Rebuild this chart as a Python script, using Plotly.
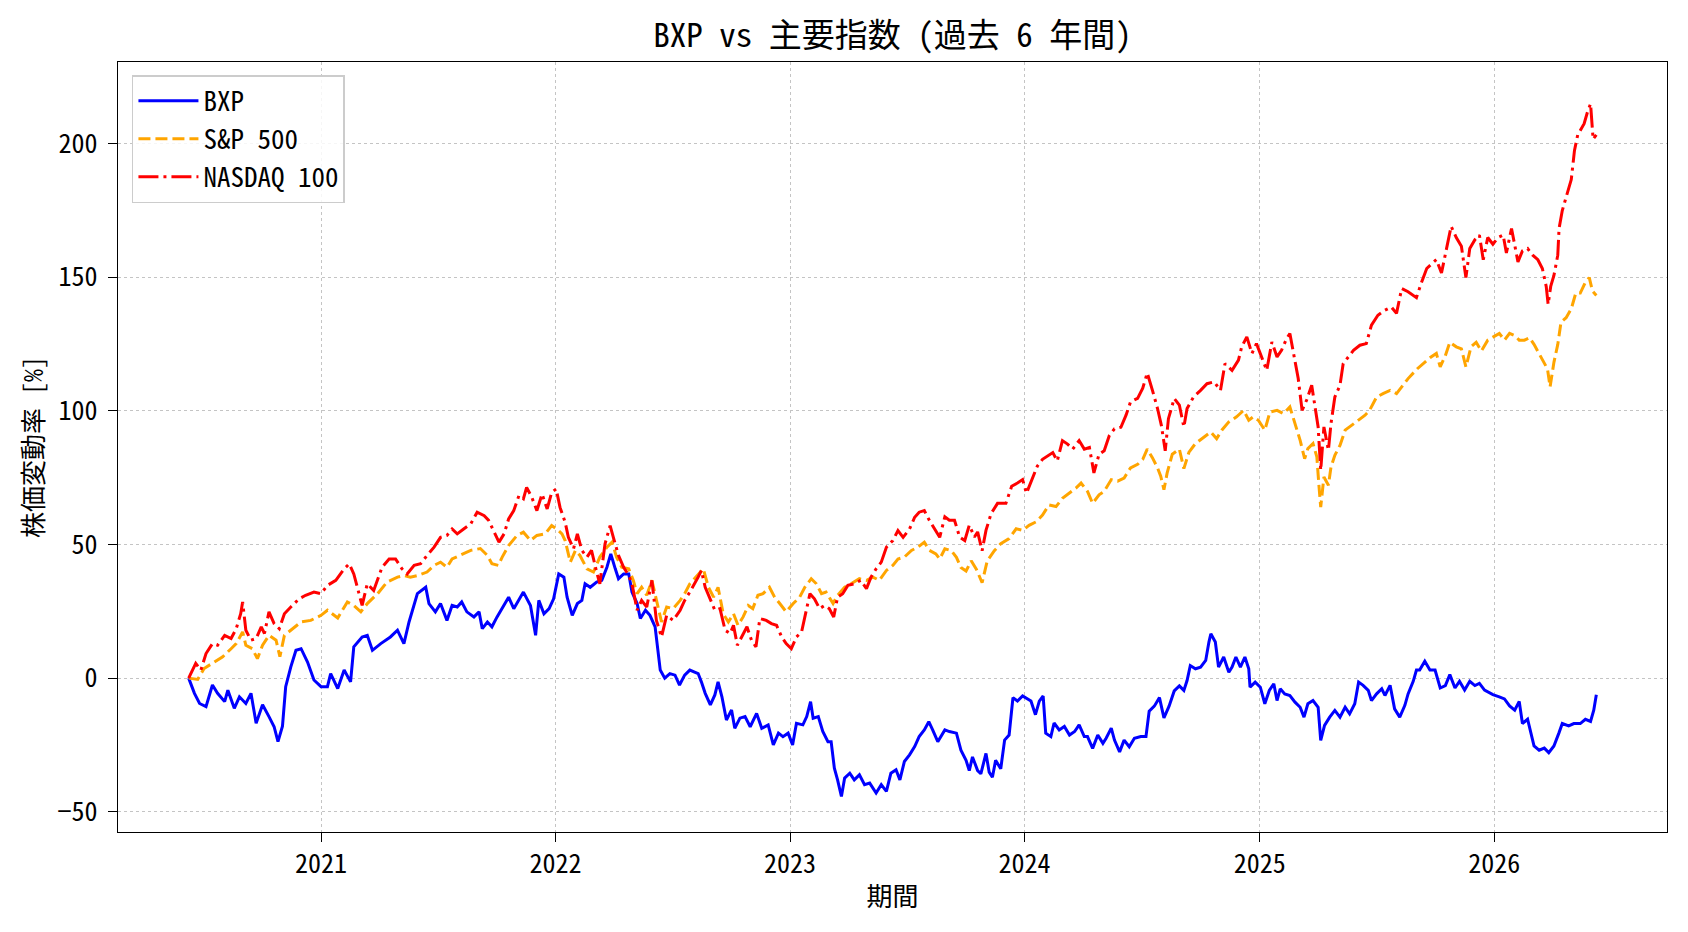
import plotly.graph_objects as go

# ---- data (percent change since start) ----
bxp = [
    ("2020-06-09", 0), ("2020-06-18", -5.7), ("2020-06-26", -9.5), ("2020-07-06", -10.7), ("2020-07-16", -2.6),
    ("2020-07-24", -5.7), ("2020-08-04", -8.8), ("2020-08-09", -4.5), ("2020-08-19", -11.3), ("2020-08-27", -7),
    ("2020-09-06", -9.5), ("2020-09-14", -5.7), ("2020-09-22", -16.9), ("2020-10-02", -10), ("2020-10-12", -14.4),
    ("2020-10-20", -18.2), ("2020-10-26", -23.8), ("2020-11-02", -18), ("2020-11-07", -3.2), ("2020-11-15", 4.2),
    ("2020-11-23", 10.4), ("2020-12-01", 11), ("2020-12-11", 6), ("2020-12-21", -0.7),
    ("2021-01-01", -3.2), ("2021-01-11", -3.2), ("2021-01-16", 1.7), ("2021-01-27", -3.9), ("2021-02-06", 3),
    ("2021-02-16", -1.4), ("2021-02-21", 11.7), ("2021-03-06", 15.4), ("2021-03-14", 16), ("2021-03-22", 10.4),
    ("2021-04-04", 12.9), ("2021-04-19", 15.4), ("2021-04-30", 17.9), ("2021-05-10", 12.9), ("2021-05-18", 21),
    ("2021-05-31", 31.6), ("2021-06-13", 34), ("2021-06-18", 27.9), ("2021-06-28", 24.8), ("2021-07-06", 27.9),
    ("2021-07-16", 21.6), ("2021-07-24", 27.2), ("2021-08-01", 26.6), ("2021-08-08", 28.5), ("2021-08-16", 24.8),
    ("2021-08-27", 22.9), ("2021-09-04", 24.8), ("2021-09-09", 18.5), ("2021-09-17", 21), ("2021-09-24", 19.2),
    ("2021-10-02", 22.9), ("2021-10-13", 27.2), ("2021-10-20", 30.3), ("2021-10-28", 26), ("2021-11-05", 29.1),
    ("2021-11-12", 32.2), ("2021-11-23", 27.2), ("2021-12-01", 16), ("2021-12-06", 29.1), ("2021-12-14", 24.1),
    ("2021-12-22", 26), ("2021-12-29", 29.7),
    ("2022-01-06", 39), ("2022-01-14", 37.8), ("2022-01-19", 30.3), ("2022-01-27", 23.5), ("2022-02-04", 27.9),
    ("2022-02-11", 29.1), ("2022-02-16", 35.3), ("2022-02-24", 34), ("2022-03-06", 35.9), ("2022-03-14", 36.6),
    ("2022-03-22", 41.5), ("2022-03-28", 46.5), ("2022-04-04", 40.9), ("2022-04-09", 37.2), ("2022-04-17", 39),
    ("2022-04-25", 39), ("2022-04-30", 32.2), ("2022-05-08", 27.9), ("2022-05-13", 22.3), ("2022-05-21", 25.4),
    ("2022-05-28", 23.5), ("2022-06-05", 19.2), ("2022-06-13", 3), ("2022-06-20", 0), ("2022-06-28", 1.7),
    ("2022-07-06", 1.1), ("2022-07-13", -2.6), ("2022-07-21", 1.1), ("2022-07-29", 3), ("2022-08-11", 1.7),
    ("2022-08-16", -1.4), ("2022-08-22", -5.7), ("2022-08-30", -10), ("2022-09-06", -6.3), ("2022-09-11", -1.4),
    ("2022-09-17", -7), ("2022-09-24", -15.7), ("2022-10-02", -11.9), ("2022-10-07", -18.8), ("2022-10-15", -15),
    ("2022-10-23", -14.4), ("2022-10-31", -18.2), ("2022-11-10", -13.2), ("2022-11-18", -18.8), ("2022-11-28", -17.5),
    ("2022-12-06", -25), ("2022-12-14", -20.6), ("2022-12-21", -21.9), ("2022-12-29", -20.6),
    ("2023-01-05", -25), ("2023-01-11", -16.9), ("2023-01-21", -17.5), ("2023-01-27", -14.4), ("2023-02-02", -8.8),
    ("2023-02-06", -15), ("2023-02-14", -14.4), ("2023-02-21", -20), ("2023-03-01", -23.8), ("2023-03-06", -23.8),
    ("2023-03-11", -33.7), ("2023-03-16", -38.1), ("2023-03-22", -44.3), ("2023-03-27", -37.4), ("2023-04-04", -35.6),
    ("2023-04-11", -38.1), ("2023-04-19", -36.2), ("2023-04-27", -39.9), ("2023-05-05", -39.3), ("2023-05-15", -43),
    ("2023-05-23", -39.9), ("2023-05-31", -42.4), ("2023-06-07", -35.6), ("2023-06-15", -34.3), ("2023-06-21", -38.1),
    ("2023-06-28", -31.2), ("2023-07-06", -28.7), ("2023-07-14", -25.6), ("2023-07-21", -21.9), ("2023-07-29", -19.4),
    ("2023-08-05", -16.3), ("2023-08-11", -19.4), ("2023-08-19", -23.8), ("2023-08-30", -19.4), ("2023-09-06", -20),
    ("2023-09-17", -20.6), ("2023-09-24", -27), ("2023-10-02", -30.8), ("2023-10-07", -34.6), ("2023-10-12", -29.5),
    ("2023-10-20", -34.6), ("2023-10-25", -35.8), ("2023-11-02", -28.2), ("2023-11-07", -35.2), ("2023-11-12", -37.1),
    ("2023-11-17", -30.8), ("2023-11-25", -33.9), ("2023-12-01", -23.2), ("2023-12-08", -21.3), ("2023-12-14", -7.3),
    ("2023-12-21", -8.6), ("2023-12-29", -6.7),
    ("2024-01-06", -8), ("2024-01-11", -8.6), ("2024-01-18", -13.7), ("2024-01-24", -8.6), ("2024-01-30", -6.7),
    ("2024-02-03", -20.6), ("2024-02-11", -21.9), ("2024-02-16", -16.8), ("2024-02-24", -19.4), ("2024-03-03", -18.1),
    ("2024-03-11", -21.3), ("2024-03-19", -20), ("2024-03-26", -17.5), ("2024-04-03", -21.9), ("2024-04-08", -21.9),
    ("2024-04-16", -26.3), ("2024-04-24", -21.3), ("2024-05-02", -24.4), ("2024-05-07", -22.5), ("2024-05-15", -18.7),
    ("2024-05-20", -23.2), ("2024-05-28", -27.6), ("2024-06-04", -23.2), ("2024-06-12", -25.7), ("2024-06-20", -22.5),
    ("2024-06-30", -21.9), ("2024-07-08", -21.9), ("2024-07-13", -12.4), ("2024-07-21", -10.5), ("2024-07-29", -7.3),
    ("2024-08-05", -14.9), ("2024-08-13", -10.5), ("2024-08-21", -4.8), ("2024-08-29", -2.9), ("2024-09-05", -4.6),
    ("2024-09-10", -0.9), ("2024-09-15", 4.7), ("2024-09-23", 3.5), ("2024-10-01", 4.1), ("2024-10-09", 6.6),
    ("2024-10-14", 13.5), ("2024-10-17", 16.6), ("2024-10-24", 13.5), ("2024-10-29", 4.1), ("2024-11-06", 7.9),
    ("2024-11-14", 2.2), ("2024-11-19", 4.1), ("2024-11-25", 7.9), ("2024-12-02", 4.1), ("2024-12-09", 7.9),
    ("2024-12-15", 3.5), ("2024-12-17", -3.4), ("2024-12-25", -1.5),
    ("2025-01-02", -3.4), ("2025-01-09", -9.6), ("2025-01-16", -4.6), ("2025-01-23", -2.1), ("2025-01-28", -8.4),
    ("2025-02-02", -4), ("2025-02-09", -5.9), ("2025-02-17", -6.5), ("2025-02-25", -9), ("2025-03-05", -10.9),
    ("2025-03-11", -14.6), ("2025-03-17", -9.6), ("2025-03-25", -8.4), ("2025-04-02", -10.9), ("2025-04-06", -23.3),
    ("2025-04-12", -17.7), ("2025-04-20", -14.6), ("2025-04-28", -12.1), ("2025-05-06", -14.6), ("2025-05-14", -10.9),
    ("2025-05-21", -13.4), ("2025-05-29", -9.6), ("2025-06-04", -1.5), ("2025-06-11", -2.7), ("2025-06-19", -4.6),
    ("2025-06-24", -8.4), ("2025-07-02", -5.9), ("2025-07-10", -4), ("2025-07-15", -6.5), ("2025-07-23", -2.7),
    ("2025-07-30", -11.5), ("2025-08-07", -14.6), ("2025-08-15", -10.2), ("2025-08-20", -5.9), ("2025-08-28", -1.2),
    ("2025-09-02", 3), ("2025-09-07", 3), ("2025-09-15", 6.3), ("2025-09-23", 3), ("2025-10-01", 3),
    ("2025-10-09", -3.7), ("2025-10-17", -2.8), ("2025-10-24", 1.3), ("2025-11-01", -3.7), ("2025-11-08", -1.2),
    ("2025-11-16", -4.5), ("2025-11-24", -1.2), ("2025-12-02", -2.8), ("2025-12-09", -2), ("2025-12-17", -4.5),
    ("2025-12-30", -6.2),
    ("2026-01-09", -7), ("2026-01-17", -7.8), ("2026-01-25", -10.4), ("2026-02-02", -12), ("2026-02-09", -8.7),
    ("2026-02-14", -17), ("2026-02-22", -15.4), ("2026-02-27", -20.4), ("2026-03-04", -25.4), ("2026-03-12", -27),
    ("2026-03-20", -26.2), ("2026-03-27", -27.9), ("2026-04-04", -25.4), ("2026-04-12", -20.4), ("2026-04-17", -17),
    ("2026-04-27", -17.9), ("2026-05-05", -17), ("2026-05-15", -17), ("2026-05-23", -15.4), ("2026-05-31", -16.2),
    ("2026-06-05", -12), ("2026-06-09", -6.2),
]

sp500 = [
    ("2020-06-09", 0), ("2020-06-23", -0.5), ("2020-07-03", 3.6), ("2020-07-19", 6.1), ("2020-08-01", 8),
    ("2020-08-14", 11), ("2020-08-22", 12.9), ("2020-09-01", 17.3), ("2020-09-06", 12.3), ("2020-09-16", 11),
    ("2020-09-24", 7.3), ("2020-10-02", 12.3), ("2020-10-12", 16), ("2020-10-23", 14.2), ("2020-10-29", 8),
    ("2020-11-05", 16), ("2020-11-15", 17.9), ("2020-12-01", 21), ("2020-12-16", 21.6),
    ("2021-01-01", 23.5), ("2021-01-11", 25.4), ("2021-01-27", 22.5), ("2021-02-11", 28.5), ("2021-02-21", 27.2),
    ("2021-03-04", 24.8), ("2021-03-14", 27.9), ("2021-03-30", 31.6), ("2021-04-14", 36), ("2021-04-30", 37.8),
    ("2021-05-10", 38.4), ("2021-05-20", 37.8), ("2021-05-31", 38.4), ("2021-06-15", 39.7), ("2021-06-26", 42.2),
    ("2021-07-06", 43.4), ("2021-07-16", 41.5), ("2021-07-24", 44.6), ("2021-08-06", 45.9), ("2021-08-22", 47.8),
    ("2021-09-06", 48.5), ("2021-09-17", 45.9), ("2021-09-24", 42.8), ("2021-10-04", 42.2), ("2021-10-10", 45.3),
    ("2021-10-20", 49.6), ("2021-11-02", 53.4), ("2021-11-12", 54.6), ("2021-11-23", 51.5), ("2021-12-03", 53.4),
    ("2021-12-16", 54), ("2021-12-26", 57.1),
    ("2022-01-03", 55.8), ("2022-01-11", 54), ("2022-01-16", 51.5), ("2022-01-24", 43.4), ("2022-02-01", 47.8),
    ("2022-02-08", 45.9), ("2022-02-19", 40.9), ("2022-03-01", 39.7), ("2022-03-11", 45.3), ("2022-03-22", 49),
    ("2022-03-30", 50.9), ("2022-04-06", 45.3), ("2022-04-14", 41.5), ("2022-04-25", 40.9), ("2022-05-02", 36.6),
    ("2022-05-08", 31.6), ("2022-05-15", 34), ("2022-05-23", 31), ("2022-05-31", 36.6), ("2022-06-07", 29.7),
    ("2022-06-15", 21), ("2022-06-23", 26.6), ("2022-07-03", 26), ("2022-07-14", 29.1), ("2022-07-21", 31.6),
    ("2022-07-29", 35.3), ("2022-08-14", 39.7), ("2022-08-19", 40.9), ("2022-08-27", 34), ("2022-09-04", 30.3),
    ("2022-09-11", 34), ("2022-09-19", 24.1), ("2022-09-27", 21), ("2022-10-05", 24.1), ("2022-10-12", 19.8),
    ("2022-10-20", 22.9), ("2022-10-28", 27.2), ("2022-11-04", 26), ("2022-11-12", 31), ("2022-11-20", 31.6),
    ("2022-11-30", 34), ("2022-12-08", 30.3), ("2022-12-16", 27.9), ("2022-12-26", 24.8),
    ("2023-01-06", 27.9), ("2023-01-16", 30.3), ("2023-01-24", 34), ("2023-02-03", 37.2), ("2023-02-11", 35.3),
    ("2023-02-19", 31.6), ("2023-02-26", 32.2), ("2023-03-09", 27.9), ("2023-03-16", 31), ("2023-03-27", 34),
    ("2023-04-06", 35.3), ("2023-04-19", 37.2), ("2023-04-30", 36.6), ("2023-05-10", 37.8), ("2023-05-20", 36.6),
    ("2023-05-31", 40.3), ("2023-06-10", 42.2), ("2023-06-18", 44.6), ("2023-06-28", 45.3), ("2023-07-09", 47.8),
    ("2023-07-19", 49), ("2023-07-29", 50.9), ("2023-08-06", 47.8), ("2023-08-16", 46.5), ("2023-08-22", 44.6),
    ("2023-08-30", 48.4), ("2023-09-09", 47.7), ("2023-09-17", 45.2), ("2023-09-24", 41.4), ("2023-10-02", 40.1),
    ("2023-10-10", 43.9), ("2023-10-18", 40.8), ("2023-10-27", 35.7), ("2023-11-04", 43.9), ("2023-11-15", 47.7),
    ("2023-11-25", 50.3), ("2023-12-08", 52.2), ("2023-12-19", 55.9), ("2023-12-29", 55.3),
    ("2024-01-08", 57.2), ("2024-01-19", 58.5), ("2024-01-29", 61), ("2024-02-08", 64.8), ("2024-02-19", 64.2),
    ("2024-02-29", 67.3), ("2024-03-11", 69.2), ("2024-03-21", 71.1), ("2024-03-29", 73), ("2024-04-08", 69.9),
    ("2024-04-16", 65.4), ("2024-04-26", 68.6), ("2024-05-04", 69.9), ("2024-05-15", 74.3), ("2024-05-25", 73.7),
    ("2024-06-04", 74.9), ("2024-06-14", 78.7), ("2024-06-25", 80), ("2024-07-03", 81.9), ("2024-07-10", 85.7),
    ("2024-07-18", 82.5), ("2024-07-26", 78.7), ("2024-07-31", 75.6), ("2024-08-05", 70.5), ("2024-08-10", 76.8),
    ("2024-08-18", 83.8), ("2024-08-29", 85.7), ("2024-09-05", 78.4), ("2024-09-13", 84.6), ("2024-09-23", 87.8),
    ("2024-10-03", 89.6), ("2024-10-17", 92.1), ("2024-10-26", 89.6), ("2024-11-03", 92.8), ("2024-11-14", 95.9),
    ("2024-11-26", 97.8), ("2024-12-07", 100.2), ("2024-12-15", 96.5), ("2024-12-22", 97.8), ("2024-12-30", 96.5),
    ("2025-01-09", 92.8), ("2025-01-17", 99.6), ("2025-01-28", 100.2), ("2025-02-07", 99), ("2025-02-17", 101.5),
    ("2025-02-25", 95.3), ("2025-03-05", 89), ("2025-03-12", 82.1), ("2025-03-17", 85.9), ("2025-03-25", 87.8),
    ("2025-03-31", 82.8), ("2025-04-03", 72.8), ("2025-04-06", 64), ("2025-04-11", 75.3), ("2025-04-18", 72.2),
    ("2025-04-22", 79), ("2025-04-28", 83.4), ("2025-05-06", 87.1), ("2025-05-14", 92.8), ("2025-05-24", 94.6),
    ("2025-06-03", 96.5), ("2025-06-14", 98.4), ("2025-06-21", 100.2), ("2025-07-02", 105.2), ("2025-07-12", 106.5),
    ("2025-07-23", 107.7), ("2025-08-02", 106.5), ("2025-08-10", 109), ("2025-08-20", 112.1), ("2025-09-03", 115.7),
    ("2025-09-15", 118.2), ("2025-09-23", 119.9), ("2025-10-03", 121.5), ("2025-10-09", 116.5), ("2025-10-17", 120.7),
    ("2025-10-24", 125.7), ("2025-11-03", 124), ("2025-11-11", 123.2), ("2025-11-18", 116.5), ("2025-11-26", 124),
    ("2025-12-04", 125.7), ("2025-12-12", 122.4), ("2025-12-22", 126.5),
    ("2026-01-02", 128.2), ("2026-01-09", 129), ("2026-01-17", 126.5), ("2026-01-25", 129), ("2026-02-02", 128.2),
    ("2026-02-09", 126.5), ("2026-02-17", 126.5), ("2026-02-25", 127.4), ("2026-03-04", 124.9), ("2026-03-12", 121.5),
    ("2026-03-20", 118.2), ("2026-03-25", 115.7), ("2026-03-29", 109), ("2026-04-04", 118.2), ("2026-04-10", 124.9),
    ("2026-04-15", 133.2), ("2026-04-23", 134.9), ("2026-05-01", 138.2), ("2026-05-08", 144.1), ("2026-05-15", 144.1),
    ("2026-05-23", 148.2), ("2026-05-29", 149.9), ("2026-06-03", 144.9), ("2026-06-09", 143.2),
]

nasdaq100 = [
    ("2020-06-09", 0), ("2020-06-20", 5.5), ("2020-06-28", 3), ("2020-07-06", 9.2), ("2020-07-16", 12.9),
    ("2020-07-24", 12.3), ("2020-08-04", 16), ("2020-08-14", 14.8), ("2020-08-22", 18.5), ("2020-08-29", 24.1),
    ("2020-09-01", 28.5), ("2020-09-06", 17.9), ("2020-09-14", 14.2), ("2020-09-22", 14.8), ("2020-09-30", 19.2),
    ("2020-10-05", 16.7), ("2020-10-12", 24.8), ("2020-10-20", 20.4), ("2020-10-28", 18.5), ("2020-11-05", 24.1),
    ("2020-11-15", 26.6), ("2020-11-28", 29.7), ("2020-12-08", 31), ("2020-12-21", 32.2),
    ("2021-01-01", 31.6), ("2021-01-11", 34.7), ("2021-01-24", 36.6), ("2021-02-06", 40.9), ("2021-02-14", 42.8),
    ("2021-02-21", 39), ("2021-03-06", 27.2), ("2021-03-14", 35.3), ("2021-03-24", 32.8), ("2021-04-06", 41.5),
    ("2021-04-17", 44.6), ("2021-04-27", 44.6), ("2021-05-07", 40.9), ("2021-05-15", 39), ("2021-05-26", 42.2),
    ("2021-06-05", 42.8), ("2021-06-15", 45.9), ("2021-06-26", 49), ("2021-07-06", 52.7), ("2021-07-16", 53.4),
    ("2021-07-24", 55.8), ("2021-08-01", 54), ("2021-08-11", 55.8), ("2021-08-22", 57.7), ("2021-09-01", 62.1),
    ("2021-09-12", 60.8), ("2021-09-19", 59), ("2021-09-27", 55.2), ("2021-10-05", 50.9), ("2021-10-13", 54),
    ("2021-10-20", 59.6), ("2021-10-28", 62.7), ("2021-11-05", 68.3), ("2021-11-12", 67.1), ("2021-11-17", 71.4),
    ("2021-11-25", 67.7), ("2021-12-03", 62.7), ("2021-12-11", 68.9), ("2021-12-19", 63.3), ("2021-12-26", 69.5),
    ("2022-01-02", 70.8), ("2022-01-08", 63.9), ("2022-01-16", 58.3), ("2022-01-21", 52.7), ("2022-01-29", 48.4),
    ("2022-02-04", 54), ("2022-02-11", 47.8), ("2022-02-19", 45.3), ("2022-02-26", 47.8), ("2022-03-06", 39.7),
    ("2022-03-11", 35.3), ("2022-03-19", 50.2), ("2022-03-27", 57.1), ("2022-04-01", 52.7), ("2022-04-09", 45.9),
    ("2022-04-17", 41.5), ("2022-04-25", 38.4), ("2022-04-30", 35.3), ("2022-05-08", 25.4), ("2022-05-15", 29.1),
    ("2022-05-23", 26.6), ("2022-05-31", 36.6), ("2022-06-07", 21.6), ("2022-06-15", 15.4), ("2022-06-23", 23.5),
    ("2022-07-03", 21.6), ("2022-07-14", 25.4), ("2022-07-21", 29.1), ("2022-07-29", 32.2), ("2022-08-11", 37.8),
    ("2022-08-16", 40.3), ("2022-08-22", 34), ("2022-08-30", 29.7), ("2022-09-06", 25.4), ("2022-09-14", 26),
    ("2022-09-22", 17.9), ("2022-09-30", 16.7), ("2022-10-05", 19.8), ("2022-10-11", 12.3), ("2022-10-18", 15.4),
    ("2022-10-26", 19.2), ("2022-11-02", 14.2), ("2022-11-09", 11.7), ("2022-11-15", 22.3), ("2022-11-25", 21.6),
    ("2022-12-03", 20.4), ("2022-12-11", 19.8), ("2022-12-19", 15.4), ("2022-12-26", 12.9),
    ("2023-01-03", 11), ("2023-01-11", 15.4), ("2023-01-19", 17.3), ("2023-01-25", 23.5), ("2023-02-01", 31.6),
    ("2023-02-08", 29.7), ("2023-02-16", 26), ("2023-02-24", 27.2), ("2023-03-03", 26), ("2023-03-10", 22.9),
    ("2023-03-16", 30.3), ("2023-03-24", 31.6), ("2023-04-01", 34.7), ("2023-04-11", 35.3), ("2023-04-21", 36.6),
    ("2023-04-30", 33.5), ("2023-05-07", 37.8), ("2023-05-15", 40.9), ("2023-05-23", 43.4), ("2023-05-31", 49),
    ("2023-06-10", 51.5), ("2023-06-18", 55.2), ("2023-06-26", 52.7), ("2023-07-06", 55.8), ("2023-07-14", 60.2),
    ("2023-07-21", 62.1), ("2023-07-29", 62.7), ("2023-08-06", 59), ("2023-08-14", 55.8), ("2023-08-22", 52.7),
    ("2023-08-30", 60.4), ("2023-09-06", 59.1), ("2023-09-14", 59.1), ("2023-09-22", 52.8), ("2023-09-30", 51.5),
    ("2023-10-07", 57.2), ("2023-10-15", 52.8), ("2023-10-20", 54.7), ("2023-10-27", 47.7), ("2023-11-02", 55.3),
    ("2023-11-10", 61.6), ("2023-11-20", 65.4), ("2023-12-03", 65.4), ("2023-12-12", 71.8), ("2023-12-21", 73),
    ("2023-12-29", 74.3),
    ("2024-01-04", 69.2), ("2024-01-13", 74.3), ("2024-01-21", 79.4), ("2024-01-29", 81.9), ("2024-02-06", 83.2),
    ("2024-02-14", 84.4), ("2024-02-21", 81.3), ("2024-02-29", 88.9), ("2024-03-08", 87.6), ("2024-03-16", 85.7),
    ("2024-03-26", 88.9), ("2024-04-03", 85.7), ("2024-04-11", 86.3), ("2024-04-18", 76.8), ("2024-04-26", 83.8),
    ("2024-05-04", 85.1), ("2024-05-12", 90.8), ("2024-05-20", 93.3), ("2024-05-30", 93.9), ("2024-06-07", 98.4),
    ("2024-06-14", 103.4), ("2024-06-25", 104.7), ("2024-07-03", 108.5), ("2024-07-10", 114.2), ("2024-07-18", 107.8),
    ("2024-07-26", 100.9), ("2024-08-01", 94.6), ("2024-08-07", 85.1), ("2024-08-12", 97.1), ("2024-08-21", 104.7),
    ("2024-08-29", 102.2), ("2024-09-05", 94), ("2024-09-10", 100.9), ("2024-09-20", 105.2), ("2024-10-01", 107.7),
    ("2024-10-11", 110.2), ("2024-10-22", 110.9), ("2024-11-01", 107.7), ("2024-11-08", 117.7), ("2024-11-19", 115.2),
    ("2024-11-29", 119), ("2024-12-04", 124), ("2024-12-12", 127.7), ("2024-12-20", 121.5), ("2024-12-27", 125.2),
    ("2025-01-04", 120.2), ("2025-01-12", 115.2), ("2025-01-20", 125.8), ("2025-01-28", 120.2), ("2025-02-04", 122.7),
    ("2025-02-12", 127.1), ("2025-02-17", 129), ("2025-02-24", 119), ("2025-03-02", 112.1), ("2025-03-08", 100.2),
    ("2025-03-15", 104), ("2025-03-23", 109.6), ("2025-03-28", 101.5), ("2025-04-02", 94), ("2025-04-06", 77.8),
    ("2025-04-11", 94), ("2025-04-18", 85.3), ("2025-04-22", 95.3), ("2025-04-28", 105.2), ("2025-05-06", 109.6),
    ("2025-05-11", 117.7), ("2025-05-19", 120.2), ("2025-05-27", 122.7), ("2025-06-06", 124.6), ("2025-06-16", 125.2),
    ("2025-06-24", 132.1), ("2025-07-04", 135.8), ("2025-07-15", 137.7), ("2025-07-25", 138.9), ("2025-08-02", 136.5),
    ("2025-08-10", 145.8), ("2025-08-20", 144.6), ("2025-09-02", 142.4), ("2025-09-10", 148.2), ("2025-09-18", 153.3),
    ("2025-09-25", 154.9), ("2025-10-03", 156.6), ("2025-10-11", 151.6), ("2025-10-19", 160.8), ("2025-10-26", 169.1),
    ("2025-11-03", 164.9), ("2025-11-11", 161.6), ("2025-11-18", 149.9), ("2025-11-24", 160.8), ("2025-12-02", 164.1),
    ("2025-12-09", 165.8), ("2025-12-15", 156.6), ("2025-12-22", 164.9), ("2025-12-30", 162.4),
    ("2026-01-07", 164.9), ("2026-01-15", 165.8), ("2026-01-20", 159.1), ("2026-01-28", 168.3), ("2026-02-02", 162.4),
    ("2026-02-07", 155.8), ("2026-02-14", 159.9), ("2026-02-22", 160.8), ("2026-03-02", 158.3), ("2026-03-10", 156.6),
    ("2026-03-17", 153.3), ("2026-03-23", 146.6), ("2026-03-26", 139.9), ("2026-03-30", 146.6), ("2026-04-04", 150.7),
    ("2026-04-10", 158.3), ("2026-04-12", 168.3), ("2026-04-17", 175), ("2026-04-23", 180), ("2026-05-01", 186.6),
    ("2026-05-06", 197.5), ("2026-05-11", 203.3), ("2026-05-15", 205), ("2026-05-21", 207.5), ("2026-05-26", 211.7),
    ("2026-05-31", 215), ("2026-06-04", 201.7), ("2026-06-09", 203.3),
]

series_names = ["BXP", "S&P 500", "NASDAQ 100"]
title_text = "BXP vs 主要指数 (過去 6 年間)"
x_label = "期間"
y_label = "株価変動率 [%]"

FONT = "Noto Sans Mono CJK JP, Noto Sans CJK JP, sans-serif"

styles = [
    dict(color="#0000ff", width=3.0, dash="solid"),
    dict(color="#ffa500", width=3.0, dash="12px,5px"),
    dict(color="#ff0000", width=3.0, dash="20px,5px,3px,5px"),
]

fig = go.Figure()
for name, data, st in zip(series_names, [bxp, sp500, nasdaq100], styles):
    fig.add_trace(go.Scatter(
        x=[d for d, _ in data], y=[v for _, v in data],
        mode="lines", name=name, line=st,
    ))

axis_common = dict(
    showline=True, linecolor="black", linewidth=1.4, mirror=True,
    ticks="outside", ticklen=9, tickwidth=1.3, tickcolor="black",
    showgrid=True, gridcolor="#c4c4c4", gridwidth=1, griddash="dot",
    zeroline=False,
    tickfont=dict(family=FONT, size=26, color="black"),
)

fig.update_layout(
    width=1688, height=932,
    margin=dict(l=118, r=21, t=62, b=100, pad=0),
    paper_bgcolor="white", plot_bgcolor="white",
    font=dict(family=FONT, size=26, color="black"),
    title=dict(text=title_text, x=0.5, xref="paper", xanchor="center",
               y=1 - 35 / 932, yref="container", yanchor="middle",
               font=dict(family=FONT, size=33, color="black")),
    xaxis=dict(
        type="date", range=["2020-02-20", "2026-09-27"],
        dtick="M12", tick0="2021-01-01", tickformat="%Y",
        title=dict(text=x_label, standoff=8, font=dict(family=FONT, size=26)),
        **axis_common,
    ),
    yaxis=dict(
        range=[-57.6, 230.6], dtick=50, tick0=0, ticklabelstandoff=5,
        title=dict(text=y_label, standoff=6, font=dict(family=FONT, size=26)),
        **axis_common,
    ),
    legend=dict(
        x=0.009, y=0.983, xanchor="left", yanchor="top",
        bgcolor="rgba(255,255,255,0.85)", bordercolor="#cccccc", borderwidth=1.5,
        font=dict(family=FONT, size=27, color="black"),
        itemwidth=60, tracegroupgap=0,
    ),
    showlegend=True,
)

fig.write_html("out.html")
